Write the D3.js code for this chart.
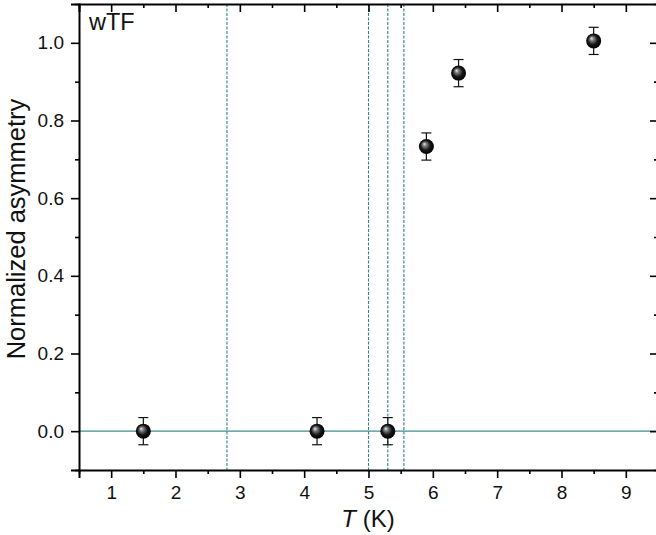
<!DOCTYPE html>
<html><head><meta charset="utf-8">
<script src="https://cdn.jsdelivr.net/npm/d3@7"></script>
<style>body{margin:0;background:#fff}svg{display:block;font-family:"Liberation Sans",Arial,sans-serif}</style>
</head><body><svg id="c" width="656" height="535"></svg>
<script>
const temps = [1.5, 4.2, 5.3, 5.9, 6.4, 8.5];
const asym = [0.0, 0.0, 0.0, 0.733, 0.922, 1.005];
const errs = [0.035, 0.035, 0.035, 0.035, 0.035, 0.035];
const vlines = [2.8, 5.0, 5.3, 5.55];
const xTicks = [1, 2, 3, 4, 5, 6, 7, 8, 9];
const yTicks = [0.0, 0.2, 0.4, 0.6, 0.8, 1.0];

(function(){
const svg = d3.select("#c");
const L = 79, R = 658, T = 4, B = 470;
const x = d3.scaleLinear().domain([0.5, 9.5]).range([L, R]);
const y = d3.scaleLinear().domain([-0.1, 1.1]).range([B, T]);

const defs = svg.append("defs");
const g = defs.append("radialGradient").attr("id","ball").attr("cx","50%").attr("cy","50%").attr("r","55%").attr("fx","35%").attr("fy","32%");
g.append("stop").attr("offset","0%").attr("stop-color","#e8e8e8");
g.append("stop").attr("offset","25%").attr("stop-color","#7a7a7a");
g.append("stop").attr("offset","60%").attr("stop-color","#151515");
g.append("stop").attr("offset","100%").attr("stop-color","#000");

svg.append("line").attr("x1",L).attr("x2",R).attr("y1",y(0)).attr("y2",y(0))
  .attr("stroke","#3f8c8c").attr("stroke-width",1.2);
svg.selectAll(".vl").data(vlines).enter().append("line")
  .attr("x1",d=>x(d)).attr("x2",d=>x(d)).attr("y1",T).attr("y2",B)
  .attr("stroke","#2b8585").attr("stroke-width",1.1).attr("stroke-dasharray","3,1.5");

const fs = 19;
const minorX = d3.range(0.5, 9.51, 0.5).filter(v => Math.abs(v - Math.round(v)) > 0.01);
const minorY = d3.range(-0.1, 1.11, 0.1).map(v=>+v.toFixed(2)).filter(v => Math.round(v*10) % 2 !== 0);

const aB = svg.append("g").attr("transform",`translate(0,${B})`)
  .call(d3.axisBottom(x).tickValues(xTicks).tickSize(8).tickPadding(8).tickFormat(d3.format("d")));
const aBm = svg.append("g").attr("transform",`translate(0,${B})`)
  .call(d3.axisBottom(x).tickValues(minorX).tickSize(4).tickFormat(""));
const aT = svg.append("g").attr("transform",`translate(0,${T})`)
  .call(d3.axisBottom(x).tickValues(xTicks).tickSize(8).tickFormat(""));
const aTm = svg.append("g").attr("transform",`translate(0,${T})`)
  .call(d3.axisBottom(x).tickValues(minorX).tickSize(4).tickFormat(""));
const aL = svg.append("g").attr("transform",`translate(${L},0)`)
  .call(d3.axisLeft(y).tickValues(yTicks).tickSize(8).tickPadding(7).tickFormat(d3.format(".1f")));
const aLm = svg.append("g").attr("transform",`translate(${L},0)`)
  .call(d3.axisLeft(y).tickValues(minorY).tickSize(4).tickFormat(""));
const aR = svg.append("g").attr("transform",`translate(${R},0)`)
  .call(d3.axisLeft(y).tickValues(yTicks).tickSize(8).tickFormat(""));
const aRm = svg.append("g").attr("transform",`translate(${R},0)`)
  .call(d3.axisLeft(y).tickValues(minorY).tickSize(4).tickFormat(""));

[aB,aBm,aT,aTm,aL,aLm,aR,aRm].forEach(a=>{
  a.selectAll("path").attr("stroke","#000").attr("stroke-width",2);
  a.selectAll("line").attr("stroke","#000").attr("stroke-width",1.6);
  a.selectAll("text").attr("font-size",fs).attr("fill","#111").attr("font-family","Liberation Sans, Arial, sans-serif");
});
[aBm,aTm,aLm,aRm,aR].forEach(a=>a.select("path").remove());

const pts = temps.map((t,i)=>({t, a:asym[i], e:errs[i]}));
const eb = svg.append("g").attr("stroke","#111").attr("stroke-width",1.2);
pts.forEach(p=>{
  eb.append("line").attr("x1",x(p.t)).attr("x2",x(p.t)).attr("y1",y(p.a-p.e)).attr("y2",y(p.a+p.e));
  eb.append("line").attr("x1",x(p.t)-5).attr("x2",x(p.t)+5).attr("y1",y(p.a-p.e)).attr("y2",y(p.a-p.e));
  eb.append("line").attr("x1",x(p.t)-5).attr("x2",x(p.t)+5).attr("y1",y(p.a+p.e)).attr("y2",y(p.a+p.e));
});
svg.selectAll(".pt").data(pts).enter().append("circle")
  .attr("cx",d=>x(d.t)).attr("cy",d=>y(d.a)).attr("r",7.5).attr("fill","url(#ball)");

svg.append("text").attr("x",89).attr("y",30).attr("font-size",23.5).attr("fill","#111").text("wTF");
const xl = svg.append("text").attr("x",368).attr("y",527).attr("text-anchor","middle").attr("font-size",24).attr("fill","#111");
xl.append("tspan").attr("font-style","italic").text("T");
xl.append("tspan").text(" (K)");
svg.append("text").attr("transform","translate(25,229) rotate(-90)").attr("text-anchor","middle")
  .attr("font-size",25.5).attr("fill","#111").text("Normalized asymmetry");
})();
</script></body></html>
